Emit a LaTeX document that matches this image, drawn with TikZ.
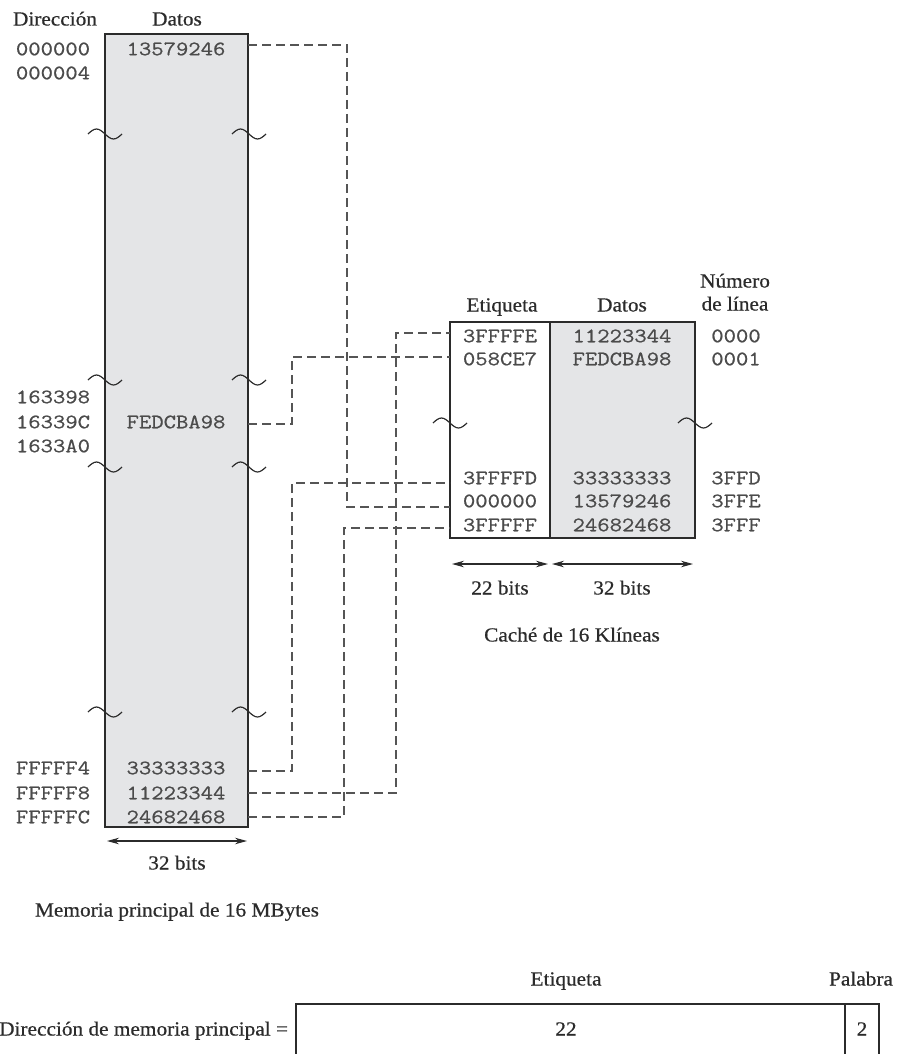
\documentclass[tikz,border=0pt]{standalone}
\usepackage{fontspec}
\setmainfont{Liberation Serif}[FakeStretch=1.065, FakeBold=0.6]
\newfontfamily\monof{Latin Modern Mono}[FakeStretch=1.17, FakeBold=0.7]
\usetikzlibrary{arrows.meta}
\definecolor{boxfill}{HTML}{E4E5E7}
\definecolor{ink}{HTML}{2B2B2B}
\definecolor{dashc}{HTML}{555555}
\tikzset{
  every node/.style={inner sep=0pt, outer sep=0pt, text=ink},
  mono/.style={font=\monof\fontsize{20.5}{21}\selectfont, text height=12.5pt, text depth=0pt, text=ink!85},
  serif/.style={font=\fontsize{20}{21}\selectfont, text height=13pt, text depth=0pt},
  boxline/.style={draw=ink, line width=1.5pt},
  conn/.style={draw=dashc, line width=1.4pt, dash pattern=on 9pt off 5pt},
  wave/.style={draw=ink, line width=1.2pt},
  dimarrow/.style={draw=ink, line width=1.2pt, {Stealth[length=12pt,width=6.5pt]}-{Stealth[length=12pt,width=6.5pt]}},
  brk/.pic={\draw[wave] (-17,0) sin (-8.5,-5) cos (0,0) sin (8.5,5) cos (17,0);},
}
\begin{document}
\begin{tikzpicture}[x=1pt,y=-1pt]
\useasboundingbox (0,0) rectangle (898,1054);

% ---------- main memory ----------
\node[boxline, fill=boxfill, minimum width=143pt, minimum height=793pt, anchor=north west] (mem) at (105,34) {};
\node[serif] (hdir) at (55,19) {Dirección};
\node[serif] (hdat) at (177,19) {Datos};

\node[mono] (a1) at (53,49) {000000};
\node[mono] (a2) at (53,73) {000004};
\node[mono] (a3) at (53,397) {163398};
\node[mono] (a4) at (53,422) {16339C};
\node[mono] (a5) at (53,446) {1633A0};
\node[mono] (a6) at (53,768) {FFFFF4};
\node[mono] (a7) at (53,793) {FFFFF8};
\node[mono] (a8) at (53,817) {FFFFFC};

\node[mono] (d1) at (176,49) {13579246};
\node[mono] (d2) at (176,422) {FEDCBA98};
\node[mono] (d3) at (176,768) {33333333};
\node[mono] (d4) at (176,793) {11223344};
\node[mono] (d5) at (176,817) {24682468};

\foreach \yy in {134,380,467,712} {
  \pic at (105,\yy) {brk};
  \pic at (249,\yy) {brk};
}

\coordinate (ma1) at (107,841);
\coordinate (ma2) at (247,841);
\draw[dimarrow] (ma1) -- (ma2);
\node[serif] (m32) at (177,863) {32 bits};
\node[serif] (mcap) at (177,910) {Memoria principal de 16 MBytes};

% ---------- cache ----------
\node[boxline, fill=boxfill, minimum width=145pt, minimum height=216pt, anchor=north west] (cdat) at (550,322) {};
\node[boxline, minimum width=100pt, minimum height=216pt, anchor=north west] (ctag) at (450,322) {};

\node[serif] (hct) at (502,305) {Etiqueta};
\node[serif] (hcd) at (622,305) {Datos};
\node[serif] (hcn1) at (735,281) {Número};
\node[serif] (hcn2) at (735,304) {de línea};

\node[mono] (t1) at (500,336) {3FFFFE};
\node[mono] (t2) at (500,359) {058CE7};
\node[mono] (t3) at (500,478) {3FFFFD};
\node[mono] (t4) at (500,501) {000000};
\node[mono] (t5) at (500,525) {3FFFFF};

\node[mono] (c1) at (622,336) {11223344};
\node[mono] (c2) at (622,359) {FEDCBA98};
\node[mono] (c3) at (622,478) {33333333};
\node[mono] (c4) at (622,501) {13579246};
\node[mono] (c5) at (622,525) {24682468};

\node[mono] (n1) at (736,336) {0000};
\node[mono] (n2) at (736,359) {0001};
\node[mono] (n3) at (736,478) {3FFD};
\node[mono] (n4) at (736,501) {3FFE};
\node[mono] (n5) at (736,525) {3FFF};

\pic at (450,423) {brk};
\pic at (695,423) {brk};

\coordinate (ca1) at (452,564);
\coordinate (ca2) at (548,564);
\coordinate (ca3) at (552,564);
\coordinate (ca4) at (693,564);
\draw[dimarrow] (ca1) -- (ca2);
\draw[dimarrow] (ca3) -- (ca4);
\node[serif] (c22) at (500,588) {22 bits};
\node[serif] (c32) at (622,588) {32 bits};
\node[serif] (ccap) at (572,635) {Caché de 16 Klíneas};

% ---------- connectors ----------
\coordinate (mr1) at (248,45);
\coordinate (mr2) at (248,424);
\coordinate (mr3) at (248,771);
\coordinate (mr4) at (248,793);
\coordinate (mr5) at (248,817);
\coordinate (cl1) at (450,333);
\coordinate (cl2) at (450,357);
\coordinate (cl3) at (450,483);
\coordinate (cl4) at (450,507);
\coordinate (cl5) at (450,528);

\draw[conn] (mr1) -- (347,45) |- (cl4);
\draw[conn] (mr2) -- (292,424) |- (cl2);
\draw[conn] (mr3) -- (292,771) |- (cl3);
\draw[conn] (mr4) -- (396,793) |- (cl1);
\draw[conn] (mr5) -- (344,817) |- (cl5);

% ---------- address format ----------
\node[serif] (fet) at (566,979) {Etiqueta};
\node[serif] (fpa) at (861,979) {Palabra};
\coordinate (fb1) at (296,1054);
\coordinate (fb2) at (296,1004);
\coordinate (fb3) at (879,1004);
\coordinate (fb4) at (879,1054);
\coordinate (fd1) at (845,1004);
\coordinate (fd2) at (845,1054);
\draw[boxline] (fb1) -- (fb2) -- (fb3) -- (fb4);
\draw[boxline] (fd1) -- (fd2);
\node[serif, anchor=east] (flab) at (288,1029) {Dirección de memoria principal =};
\node[serif] (f22) at (566,1029) {22};
\node[serif] (f2) at (862,1029) {2};
\end{tikzpicture}
\end{document}
